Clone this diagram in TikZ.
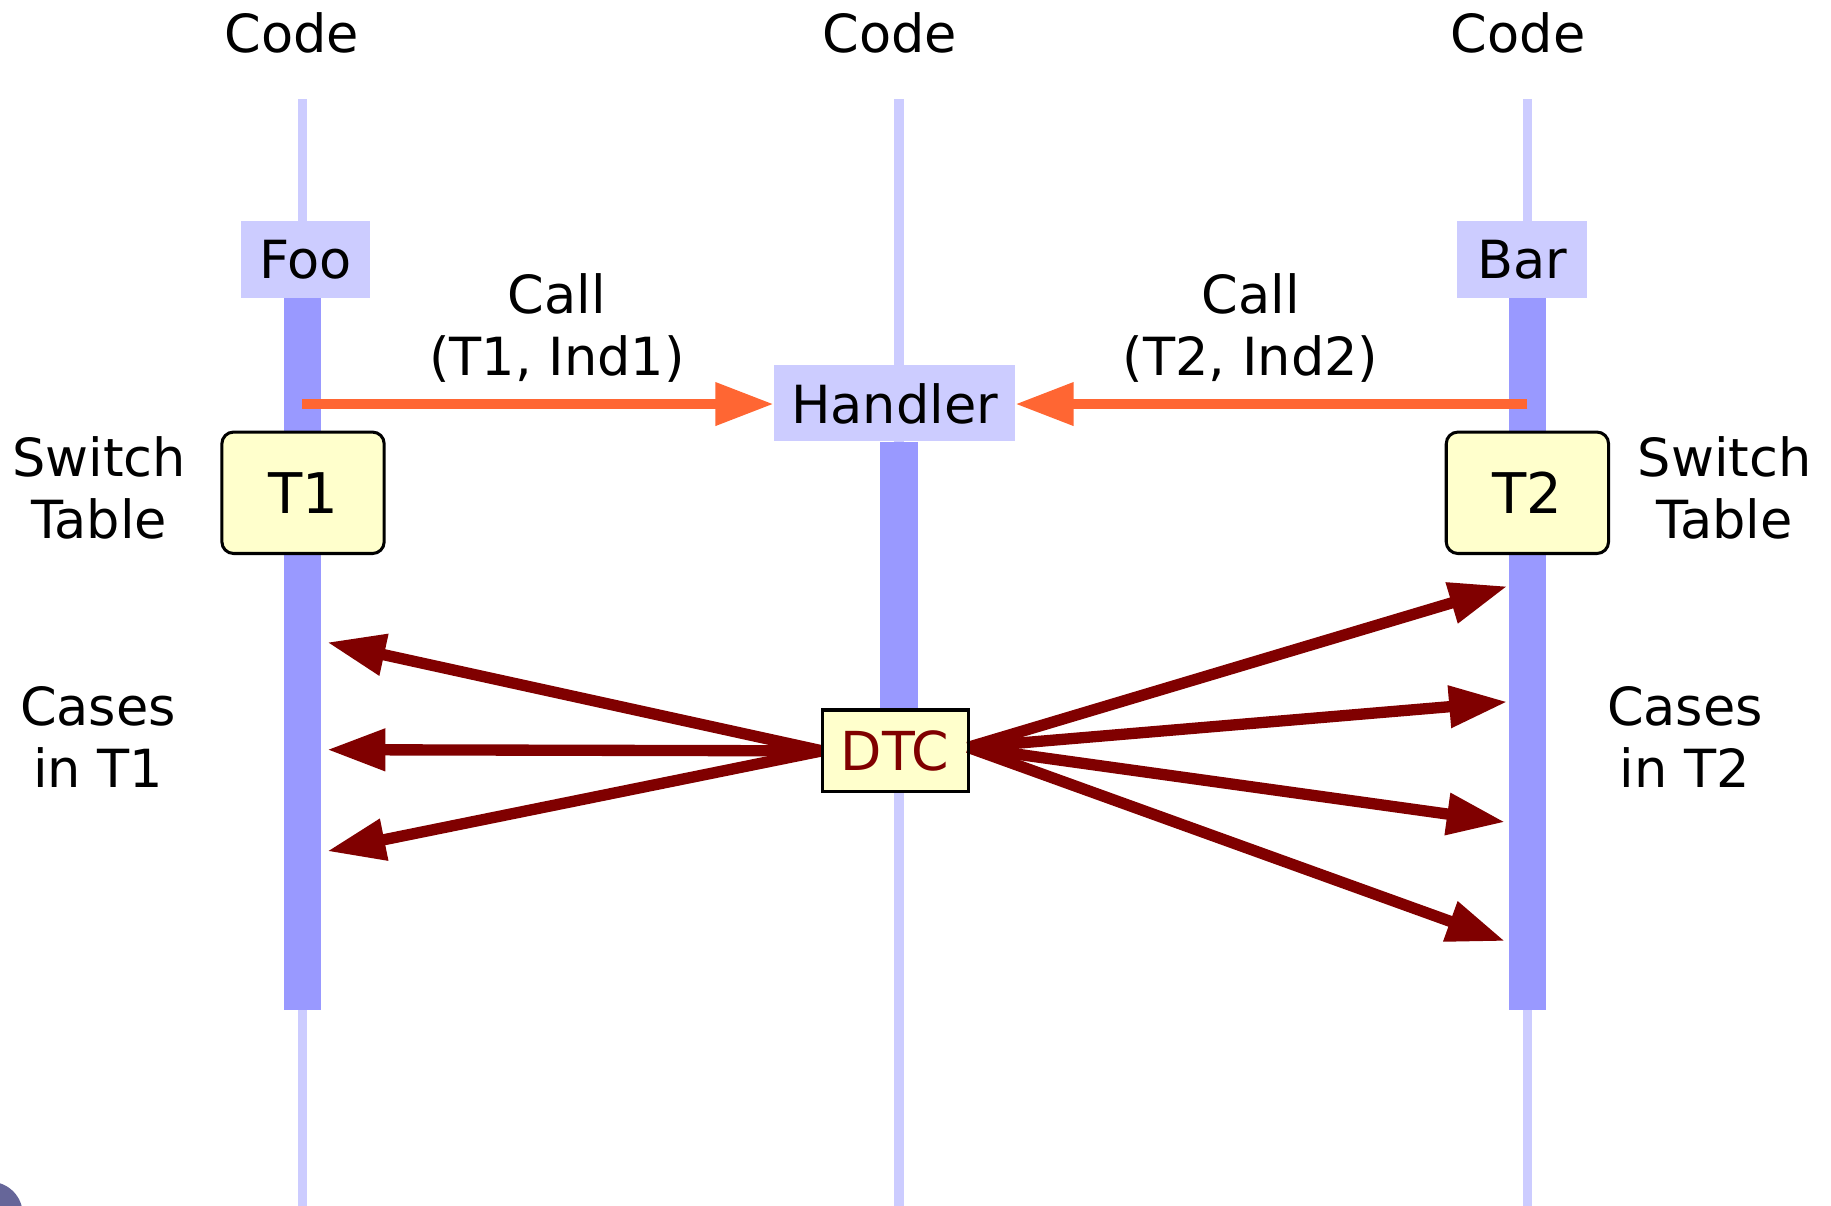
\documentclass[tikz,border=0pt]{standalone}
\usepackage{fontspec}
\setmainfont{DejaVu Sans}
\usetikzlibrary{arrows.meta}
\definecolor{lane}{HTML}{CCCCFF}
\definecolor{act}{HTML}{9999FF}
\definecolor{callc}{HTML}{FF6633}
\definecolor{dispatch}{HTML}{800000}
\definecolor{tbl}{HTML}{FFFFCC}
\definecolor{corner}{HTML}{666699}
\begin{document}
\begin{tikzpicture}[x=0.5pt,y=-0.5pt,
  every node/.style={font=\fontsize{22.5pt}{26.5pt}\selectfont},
  lbl/.style={align=center, inner sep=0pt},
  lifeline/.style={draw=lane, line width=4pt},
  activity/.style={draw=act, line width=16pt},
  hdr/.style={fill=lane, inner sep=0pt, minimum width=55.5pt, minimum height=33pt},
  tblbox/.style={draw=black, fill=tbl, line width=1.3pt, rounded corners=5pt,
                 inner sep=0pt, minimum width=69.5pt, minimum height=52pt,
                 font=\fontsize{24pt}{28pt}\selectfont},
  callarrow/.style={draw=callc, line width=4.5pt, -{Triangle[length=25pt,width=17.5pt]}},
  dtcarrow/.style={draw=dispatch, line width=4.85pt, -{Triangle[length=25pt,width=17pt]}}
]
\useasboundingbox (0,0) rectangle (1568,1032);

% lifelines
\coordinate (top1) at (259,85);   \coordinate (bot1) at (259,1040);
\coordinate (top2) at (770,85);   \coordinate (bot2) at (770,1040);
\coordinate (top3) at (1308,85);  \coordinate (bot3) at (1308,1040);
\draw[lifeline] (top1) -- (bot1);
\draw[lifeline] (top2) -- (bot2);
\draw[lifeline] (top3) -- (bot3);

% column headings
\node[lbl] (code1) at (250,28) {Code};
\node[lbl] (code2) at (762,28) {Code};
\node[lbl] (code3) at (1300,28) {Code};

% boxes
\node[hdr] (foo) at (261.5,222) {Foo};
\node[hdr] (bar) at (1303.5,222) {Bar};
\node[hdr, minimum width=103pt, minimum height=32.5pt] (handler) at (766,345.5) {Handler};
\node[draw=black, fill=tbl, line width=1.3pt, inner sep=0pt,
      minimum width=62.5pt, minimum height=35pt, text=dispatch,
      font=\fontsize{23pt}{27pt}\selectfont] (dtc) at (766.5,643) {DTC};

% activation bars
\coordinate (a1e) at (259,865);
\coordinate (a3e) at (1308,865);
\draw[activity] (foo.south -| top1) -- (a1e);
\draw[activity] (bar.south -| top3) -- (a3e);
\draw[activity] (handler.south -| top2) -- (dtc.north -| top2);

% switch tables
\node[tblbox] (t1) at (259.5,422) {T1};
\node[tblbox] (t2) at (1308,422) {T2};

% side labels
\node[lbl] (sw1) at (85,418) {Switch\\Table};
\node[lbl] (sw2) at (1477,418) {Switch\\Table};
\node[lbl] (cs1) at (84,631) {Cases\\in T1};
\node[lbl] (cs2) at (1443,631) {Cases\\in T2};
\node[lbl] (call1) at (477,281) {Call\\(T1, Ind1)};
\node[lbl] (call2) at (1071,281) {Call\\(T2, Ind2)};

% calls into the handler
\coordinate (c1) at (259,346);
\coordinate (c2) at (1308,346);
\draw[callarrow] (c1) -- (handler.west |- c1);
\draw[callarrow] (c2) -- (handler.east |- c2);

% dispatch to cases
\coordinate (l1) at (280,550);
\coordinate (l2) at (280,642);
\coordinate (l3) at (280,729);
\coordinate (r1) at (1291,502);
\coordinate (r2) at (1291,601);
\coordinate (r3) at (1289,704);
\coordinate (r4) at (1289,806);
\coordinate (dw) at (704,643);
\coordinate (de) at (829,640);
\draw[dtcarrow] (dw) -- (l1);
\draw[dtcarrow] (dw) -- (l2);
\draw[dtcarrow] (dw) -- (l3);
\draw[dtcarrow] (de) -- (r1);
\draw[dtcarrow] (de) -- (r2);
\draw[dtcarrow] (de) -- (r3);
\draw[dtcarrow] (de) -- (r4);
\node[draw=black, line width=1.3pt, inner sep=0pt,
      minimum width=62.5pt, minimum height=35pt] (dtcframe) at (dtc) {};

% disc in the lower left corner
\fill[corner] (-8.5,1040) circle [radius=28];
\end{tikzpicture}
\end{document}
